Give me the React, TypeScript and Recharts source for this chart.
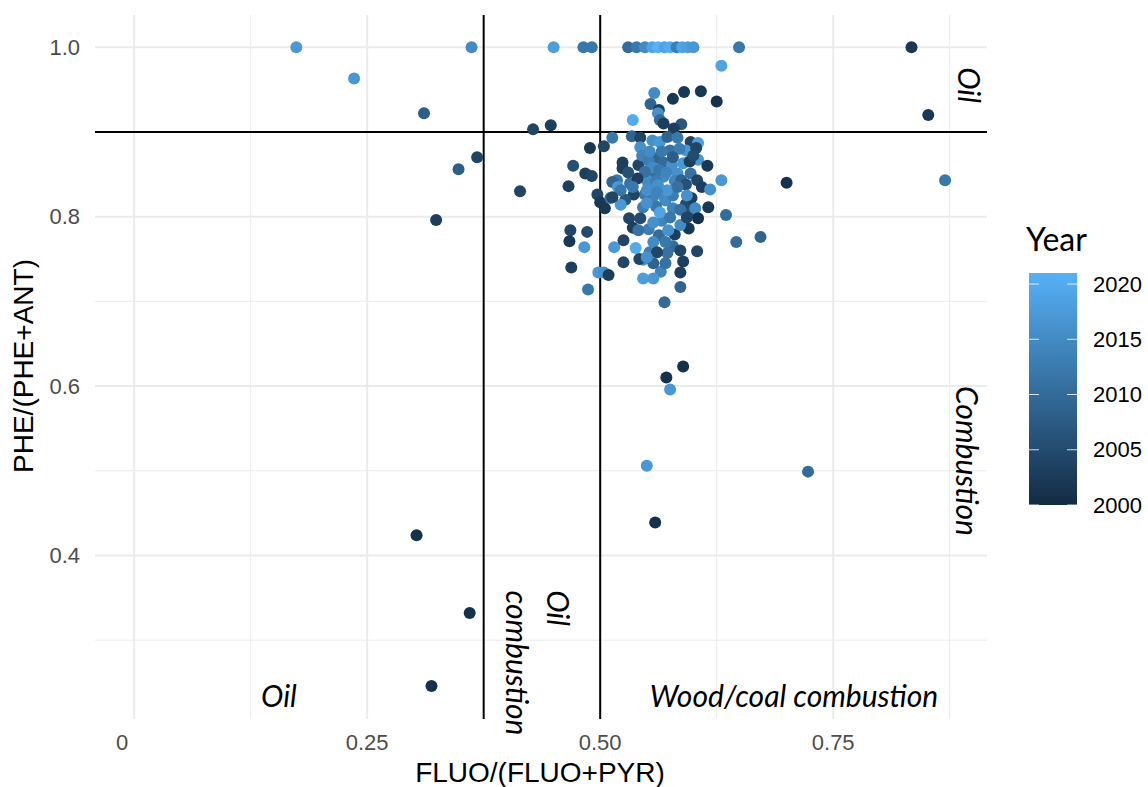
import React from 'react'
import { ScatterChart, Scatter, XAxis, YAxis, ReferenceLine } from 'recharts'

// [FLUO/(FLUO+PYR), PHE/(PHE+ANT), year]
type Row = [number, number, number]

const topRow: Row[] = [
  [0.174, 1, 2017], [0.362, 1, 2015], [0.450, 1, 2018], [0.482, 1, 2012], [0.491, 1, 2012],
  [0.530, 1, 2010], [0.539, 1, 2012], [0.548, 1, 2015], [0.556, 1, 2019], [0.562, 1, 2021],
  [0.569, 1, 2019], [0.575, 1, 2020], [0.582, 1, 2013], [0.588, 1, 2019], [0.594, 1, 2018],
  [0.600, 1, 2017], [0.649, 1, 2012], [0.834, 1, 2002],
]

const outliers: Row[] = [
  [0.236, 0.963, 2017], [0.311, 0.922, 2008], [0.348, 0.856, 2008], [0.368, 0.870, 2004],
  [0.324, 0.796, 2003], [0.414, 0.830, 2004], [0.428, 0.903, 2004], [0.447, 0.908, 2003],
  [0.630, 0.978, 2019], [0.852, 0.920, 2002], [0.870, 0.843, 2012], [0.700, 0.840, 2001],
  [0.646, 0.770, 2010], [0.672, 0.776, 2009], [0.635, 0.802, 2010], [0.575, 0.596, 2017],
  [0.571, 0.610, 2001], [0.589, 0.623, 2001], [0.550, 0.506, 2017], [0.723, 0.499, 2010],
  [0.559, 0.439, 2001], [0.303, 0.424, 2001], [0.360, 0.332, 2001], [0.319, 0.246, 2001],
]

const upperCluster: Row[] = [
  [0.558, 0.946, 2015], [0.578, 0.939, 2002], [0.590, 0.947, 2002], [0.608, 0.948, 2002],
  [0.625, 0.936, 2001], [0.554, 0.933, 2009], [0.563, 0.926, 2003], [0.562, 0.922, 2016],
  [0.564, 0.914, 2010], [0.535, 0.914, 2020], [0.568, 0.910, 2003], [0.587, 0.909, 2007],
  [0.579, 0.904, 2003],
  [0.513, 0.893, 2012], [0.534, 0.895, 2009], [0.543, 0.893, 2004], [0.556, 0.890, 2016],
  [0.564, 0.888, 2017], [0.572, 0.894, 2009], [0.583, 0.893, 2012], [0.597, 0.888, 2004],
  [0.605, 0.887, 2018], [0.543, 0.882, 2016], [0.575, 0.878, 2011], [0.592, 0.878, 2017],
  [0.603, 0.881, 2004], [0.489, 0.881, 2002], [0.504, 0.883, 2004], [0.524, 0.864, 2003],
  [0.524, 0.857, 2003], [0.541, 0.861, 2004], [0.559, 0.869, 2009], [0.568, 0.864, 2010],
  [0.577, 0.861, 2016], [0.589, 0.863, 2017], [0.605, 0.867, 2017], [0.615, 0.860, 2002],
  [0.630, 0.843, 2017], [0.559, 0.852, 2010], [0.568, 0.847, 2015], [0.583, 0.851, 2016],
  [0.597, 0.851, 2011], [0.550, 0.843, 2016], [0.518, 0.843, 2012], [0.532, 0.839, 2011],
  [0.471, 0.860, 2006], [0.484, 0.851, 2003], [0.491, 0.848, 2004], [0.466, 0.836, 2003],
  [0.513, 0.841, 2009], [0.604, 0.843, 2004], [0.609, 0.835, 2003],
]

const coreCluster: Row[] = [
  [0.545, 0.872, 2014], [0.552, 0.866, 2013], [0.556, 0.858, 2015], [0.563, 0.855, 2012],
  [0.571, 0.852, 2014], [0.548, 0.853, 2011], [0.552, 0.838, 2015], [0.560, 0.842, 2013],
  [0.566, 0.826, 2016], [0.556, 0.822, 2014], [0.548, 0.826, 2012], [0.570, 0.819, 2015],
  [0.578, 0.825, 2013], [0.580, 0.842, 2014], [0.587, 0.843, 2009], [0.592, 0.838, 2006],
  [0.596, 0.865, 2003], [0.600, 0.872, 2005], [0.585, 0.880, 2013], [0.578, 0.870, 2008],
  [0.566, 0.877, 2012], [0.553, 0.877, 2015], [0.540, 0.845, 2003], [0.536, 0.826, 2004],
  [0.530, 0.852, 2006], [0.527, 0.820, 2007], [0.546, 0.811, 2013], [0.560, 0.812, 2012],
  [0.578, 0.810, 2014], [0.592, 0.815, 2005], [0.598, 0.822, 2003], [0.566, 0.795, 2014],
  [0.552, 0.785, 2013], [0.563, 0.778, 2010], [0.580, 0.779, 2003], [0.595, 0.786, 2002],
  [0.531, 0.798, 2004], [0.535, 0.787, 2003], [0.578, 0.765, 2010], [0.553, 0.758, 2013],
  [0.565, 0.735, 2014], [0.598, 0.805, 2006],
]

const midCluster: Row[] = [
  [0.497, 0.826, 2004], [0.500, 0.817, 2002], [0.505, 0.810, 2002], [0.511, 0.822, 2011],
  [0.519, 0.835, 2017], [0.522, 0.831, 2012], [0.522, 0.814, 2017], [0.535, 0.835, 2012],
  [0.550, 0.831, 2016], [0.562, 0.837, 2016], [0.572, 0.831, 2017], [0.583, 0.835, 2011],
  [0.593, 0.825, 2016], [0.618, 0.832, 2016], [0.616, 0.811, 2002], [0.602, 0.810, 2015],
  [0.605, 0.798, 2001], [0.550, 0.816, 2016], [0.564, 0.805, 2019], [0.543, 0.798, 2005],
  [0.557, 0.793, 2016], [0.575, 0.799, 2012], [0.586, 0.790, 2015], [0.541, 0.784, 2011],
  [0.573, 0.784, 2016], [0.513, 0.823, 2004], [0.561, 0.829, 2014], [0.586, 0.808, 2011],
  [0.593, 0.799, 2004],
]

const lowerCluster: Row[] = [
  [0.468, 0.784, 2004], [0.486, 0.782, 2005], [0.467, 0.771, 2002], [0.483, 0.764, 2017],
  [0.515, 0.764, 2017], [0.525, 0.772, 2004], [0.538, 0.763, 2020], [0.557, 0.770, 2015],
  [0.570, 0.770, 2012], [0.586, 0.760, 2004], [0.604, 0.759, 2004], [0.525, 0.746, 2004],
  [0.546, 0.749, 2016], [0.542, 0.750, 2004], [0.557, 0.745, 2009], [0.570, 0.745, 2011],
  [0.572, 0.757, 2011], [0.561, 0.758, 2004], [0.589, 0.747, 2003], [0.586, 0.734, 2003],
  [0.586, 0.717, 2009], [0.469, 0.740, 2003], [0.487, 0.714, 2012], [0.498, 0.734, 2017],
  [0.504, 0.734, 2016], [0.509, 0.731, 2003], [0.546, 0.727, 2018], [0.557, 0.727, 2017],
  [0.569, 0.699, 2010], [0.550, 0.752, 2016],
]

const xTicks = [0, 0.25, 0.5, 0.75]
const xMinor = [0.125, 0.375, 0.625, 0.875]
const yTicks = [0.4, 0.6, 0.8, 1.0]
const yMinor = [0.3, 0.5, 0.7, 0.9]
const xCuts = [0.375, 0.5]
const yCuts = [0.9]
const legendYears = [2000, 2005, 2010, 2015, 2020]
const yearMin = 2000
const yearMax = 2021

const LOW = [0x13, 0x2b, 0x43]
const HIGH = [0x56, 0xb1, 0xf7]

function yearColor(year: number) {
  const t = Math.max(0, Math.min(1, (year - yearMin) / (yearMax - yearMin)))
  const c = LOW.map((l, i) => Math.round(l + (HIGH[i] - l) * t))
  return `rgb(${c[0]},${c[1]},${c[2]})`
}

const data = [...topRow, ...outliers, ...upperCluster, ...coreCluster, ...midCluster, ...lowerCluster]
  .map(([x, y, year]) => ({ x, y, year }))

const W = 1148
const H = 787
const PLOT = { left: 95, top: 15, right: 987, bottom: 719 }

const sans = '"Liberation Sans", Arial, sans-serif'
const calib = 'Lato, "Open Sans", sans-serif'

function Dot(props: any) {
  const { cx, cy, payload } = props
  if (cx == null || cy == null) return null
  return <circle cx={cx} cy={cy} r={6} fill={yearColor(payload.year)} />
}

// ggplot puts the lone "0" label a little left of its grid line
function XTick(props: any) {
  const { x, y, payload } = props
  const v = payload.value as number
  return (
    <text x={v === 0 ? x - 12 : x} y={y} dy={16} textAnchor="middle" fill="#4D4D4D" fontSize={22} fontFamily={sans}>
      {v === 0 ? '0' : v.toFixed(2)}
    </text>
  )
}

const annStyle = { fontFamily: calib, fontStyle: 'italic' as const, fontSize: 30, fill: '#000' }

export default function App() {
  const barTop = 273
  const barBottom = 505
  const barX = 1029
  const barW = 48
  const yearY = (yr: number) => barBottom - ((yr - yearMin) / (yearMax - yearMin)) * (barBottom - barTop)

  return (
    <div style={{ position: 'absolute', left: 0, top: 0, width: W, height: H, background: '#fff' }}>
      <ScatterChart
        width={W}
        height={H}
        margin={{ top: PLOT.top, right: W - PLOT.right, bottom: H - PLOT.bottom - 40, left: PLOT.left - 60 }}
        style={{ fontFamily: sans }}
      >
        <XAxis
          type="number"
          dataKey="x"
          domain={[-0.042, 0.915]}
          allowDataOverflow
          ticks={xTicks}
          axisLine={false}
          tickLine={false}
          tickMargin={9}
          height={40}
          tick={<XTick />}
        />
        <YAxis
          type="number"
          dataKey="y"
          domain={[0.207, 1.038]}
          allowDataOverflow
          ticks={yTicks}
          tickFormatter={(v: number) => v.toFixed(1)}
          axisLine={false}
          tickLine={false}
          tickMargin={9}
          width={60}
          tick={{ fill: '#4D4D4D', fontSize: 22, fontFamily: sans }}
        />
        {xMinor.map((v) => (
          <ReferenceLine key={'xm' + v} x={v} stroke="#EBEBEB" strokeWidth={1} />
        ))}
        {yMinor.map((v) => (
          <ReferenceLine key={'ym' + v} y={v} stroke="#EBEBEB" strokeWidth={1} />
        ))}
        {xTicks.map((v) => (
          <ReferenceLine key={'xM' + v} x={v} stroke="#EBEBEB" strokeWidth={2} />
        ))}
        {yTicks.map((v) => (
          <ReferenceLine key={'yM' + v} y={v} stroke="#EBEBEB" strokeWidth={2} />
        ))}
        {xCuts.map((v) => (
          <ReferenceLine key={'xc' + v} x={v} stroke="#000" strokeWidth={2} />
        ))}
        {yCuts.map((v) => (
          <ReferenceLine key={'yc' + v} y={v} stroke="#000" strokeWidth={2} />
        ))}
        <Scatter data={data} shape={Dot} isAnimationActive={false} />
      </ScatterChart>

      <svg width={W} height={H} style={{ position: 'absolute', left: 0, top: 0, pointerEvents: 'none' }}>
        {/* annotations */}
        <text x={279} y={707} textAnchor="middle" style={annStyle}>Oil</text>
        <text x={794} y={707} textAnchor="middle" style={annStyle}>Wood/coal combustion</text>
        <text transform="translate(518,663) rotate(90)" textAnchor="middle" dominantBaseline="central" style={annStyle}>combustion</text>
        <text transform="translate(559,608) rotate(90)" textAnchor="middle" dominantBaseline="central" style={annStyle}>Oil</text>
        <text transform="translate(968,461) rotate(90)" textAnchor="middle" dominantBaseline="central" style={annStyle}>Combustion</text>
        <text transform="translate(970,85) rotate(90)" textAnchor="middle" dominantBaseline="central" style={annStyle}>Oil</text>

        {/* axis titles */}
        <text x={540} y={782} textAnchor="middle" fontFamily={sans} fontSize={28} fill="#000">FLUO/(FLUO+PYR)</text>
        <text transform="translate(33,366) rotate(-90)" textAnchor="middle" fontFamily={sans} fontSize={28} fill="#000">PHE/(PHE+ANT)</text>

        {/* colour legend */}
        <defs>
          <linearGradient id="yearGrad" x1="0" y1="1" x2="0" y2="0">
            <stop offset="0%" stopColor={yearColor(yearMin)} />
            <stop offset="100%" stopColor={yearColor(yearMax)} />
          </linearGradient>
        </defs>
        <text x={1026} y={251} fontFamily={calib} fontSize={32} fill="#000">Year</text>
        <rect x={barX} y={barTop} width={barW} height={barBottom - barTop} fill="url(#yearGrad)" />
        {legendYears.map((yr) => (
          <g key={yr}>
            <line x1={barX} x2={barX + 10} y1={yearY(yr)} y2={yearY(yr)} stroke="#fff" strokeWidth={1} opacity={0.8} />
            <line x1={barX + barW - 10} x2={barX + barW} y1={yearY(yr)} y2={yearY(yr)} stroke="#fff" strokeWidth={1} opacity={0.8} />
            <text x={1093} y={yearY(yr)} dominantBaseline="central" fontFamily={sans} fontSize={22} fill="#000">{yr}</text>
          </g>
        ))}
      </svg>
    </div>
  )
}
